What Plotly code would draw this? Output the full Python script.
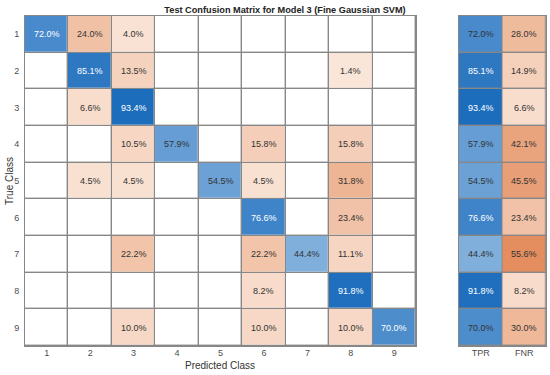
import plotly.graph_objects as go

classes = [1, 2, 3, 4, 5, 6, 7, 8, 9]
# rows = true class, cols = predicted class (percent, 0 = empty)
matrix = [
    [72.0, 24.0, 4.0, 0, 0, 0, 0, 0, 0],
    [0, 85.1, 13.5, 0, 0, 0, 0, 1.4, 0],
    [0, 6.6, 93.4, 0, 0, 0, 0, 0, 0],
    [0, 0, 10.5, 57.9, 0, 15.8, 0, 15.8, 0],
    [0, 4.5, 4.5, 0, 54.5, 4.5, 0, 31.8, 0],
    [0, 0, 0, 0, 0, 76.6, 0, 23.4, 0],
    [0, 0, 22.2, 0, 0, 22.2, 44.4, 11.1, 0],
    [0, 0, 0, 0, 0, 8.2, 0, 91.8, 0],
    [0, 0, 10.0, 0, 0, 10.0, 0, 10.0, 70.0],
]
tpr = [72.0, 85.1, 93.4, 57.9, 54.5, 76.6, 44.4, 91.8, 70.0]
fnr = [28.0, 14.9, 6.6, 42.1, 45.5, 23.4, 55.6, 8.2, 30.0]
rate_labels = ["TPR", "FNR"]
rate_pos = [0, 1]

BLUE = [[0, "rgb(220,235,248)"], [1, "rgb(15,100,185)"]]
ORANGE = [[0, "rgb(251,232,220)"], [1, "rgb(226,135,85)"]]
GRID = "rgb(135,135,135)"
DARK = "#333333"
GAP = 1.4
FS = 9

W, H = 550, 375


def fx(px):
    return px / W


def fy(py):
    return 1 - py / H


n = len(classes)
diag = [[matrix[i][j] if (i == j and matrix[i][j] > 0) else None for j in range(n)] for i in range(n)]
off = [[matrix[i][j] if (i != j and matrix[i][j] > 0) else None for j in range(n)] for i in range(n)]
blank = [[0] * n for _ in range(n)]

fig = go.Figure()
common = dict(showscale=False, xgap=GAP, ygap=GAP, hoverinfo="skip")
fig.add_trace(go.Heatmap(x=classes, y=classes, z=blank, colorscale=[[0, "white"], [1, "white"]],
                         xaxis="x", yaxis="y", **common))
fig.add_trace(go.Heatmap(x=classes, y=classes, z=diag, colorscale=BLUE, zmin=0, zmax=100,
                         xaxis="x", yaxis="y", **common))
fig.add_trace(go.Heatmap(x=classes, y=classes, z=off, colorscale=ORANGE, zmin=0, zmax=60,
                         xaxis="x", yaxis="y", **common))
# rates panel
fig.add_trace(go.Heatmap(x=[rate_pos[0]], y=classes, z=[[v] for v in tpr], colorscale=BLUE,
                         zmin=0, zmax=100, xaxis="x2", yaxis="y2", **common))
fig.add_trace(go.Heatmap(x=[rate_pos[1]], y=classes, z=[[v] for v in fnr], colorscale=ORANGE,
                         zmin=0, zmax=60, xaxis="x2", yaxis="y2", **common))

annotations = []
for i in range(n):
    for j in range(n):
        v = matrix[i][j]
        if v > 0:
            col = "white" if (i == j and v >= 65) else DARK
            annotations.append(dict(x=classes[j], y=classes[i], xref="x", yref="y", text=f"{v:.1f}%",
                                    showarrow=False, font=dict(size=FS, color=col)))
    annotations.append(dict(x=rate_pos[0], y=classes[i], xref="x2", yref="y2", text=f"{tpr[i]:.1f}%",
                            showarrow=False, font=dict(size=FS, color="white" if tpr[i] >= 75 else DARK)))
    annotations.append(dict(x=rate_pos[1], y=classes[i], xref="x2", yref="y2", text=f"{fnr[i]:.1f}%",
                            showarrow=False, font=dict(size=FS, color=DARK)))

annotations.append(dict(text="Predicted Class", xref="paper", yref="paper", x=fx((25 + 416) / 2),
                        y=fy(365), xanchor="center", yanchor="middle", showarrow=False,
                        font=dict(size=10, color="#333333")))
annotations.append(dict(text="True Class", xref="paper", yref="paper", x=fx(9),
                        y=fy(181), xanchor="center", yanchor="middle", showarrow=False,
                        textangle=-90, font=dict(size=10, color="#333333")))

axis_common = dict(showline=True, linecolor=GRID, linewidth=1, mirror=True, showgrid=False,
                   zeroline=False, ticks="", tickfont=dict(size=FS, color="#4d4d4d"))

fig.update_layout(
    width=W, height=H,
    margin=dict(l=0, r=0, t=0, b=0),
    paper_bgcolor="white", plot_bgcolor=GRID,
    font=dict(family="Liberation Sans, Arial, sans-serif", color="#333333"),
    title=dict(text="<b>Test Confusion Matrix for Model 3 (Fine Gaussian SVM)</b>",
               x=fx(285), xanchor="center", y=fy(10), yanchor="middle",
               font=dict(size=9.2, color="#222222")),
    xaxis=dict(domain=[fx(25), fx(416)], range=[0.5, 9.5], tickvals=classes,
               ticklabelstandoff=-2, **axis_common),
    yaxis=dict(domain=[fy(346), fy(16)], range=[9.5, 0.5], tickvals=classes,
               ticklabelstandoff=3, **axis_common),
    xaxis2=dict(domain=[fx(459), fx(546)], anchor="y2", range=[-0.5, 1.5],
                tickvals=rate_pos, ticktext=rate_labels, ticklabelstandoff=-2, **axis_common),
    yaxis2=dict(domain=[fy(346), fy(16)], anchor="x2", range=[9.5, 0.5],
                showticklabels=False, **{k: v for k, v in axis_common.items() if k != "tickfont"}),
    annotations=annotations,
)

# remove the default page margin so the 550x375 figure fills the window exactly
fig.write_html("out.html", config={"displayModeBar": False},
               post_script="document.body.style.margin='0px';")
